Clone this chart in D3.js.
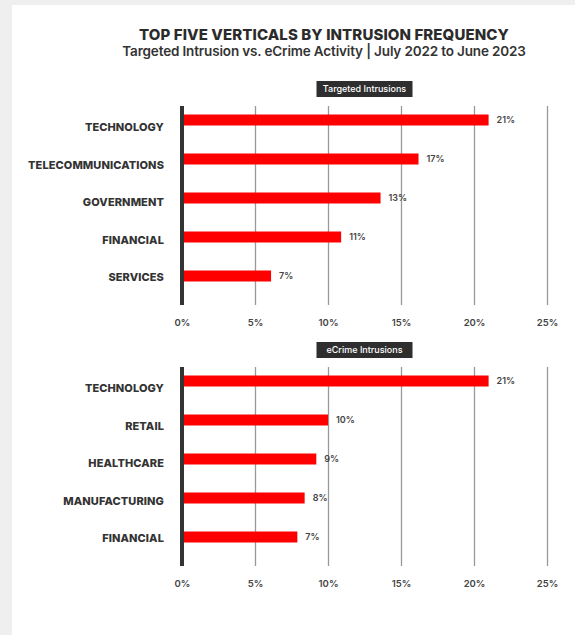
<!DOCTYPE html>
<html>
<head>
<meta charset="utf-8">
<script src="https://cdn.jsdelivr.net/npm/d3@7"></script>
<style>
  html, body { margin: 0; padding: 0; background: #efefef; }
  svg { display: block; }
  .title { font-family: Inter, "Noto Sans", sans-serif; font-weight: 800; fill: #2b2b2b; }
  .subtitle { font-family: Inter, "Noto Sans", sans-serif; font-weight: 600; fill: #333; }
  .cat { font-family: Inter, "Noto Sans", sans-serif; font-weight: 800; fill: #333; }
  .val, .tick text { font-family: Inter, "Noto Sans", sans-serif; font-weight: 600; fill: #444; }
  .hdr { font-family: Inter, "Noto Sans", sans-serif; font-weight: 500; fill: #fff; }
</style>
</head>
<body>
<div class="chart"></div>
<script>
// data
var targetedCategories = ["TECHNOLOGY", "TELECOMMUNICATIONS", "GOVERNMENT", "FINANCIAL", "SERVICES"];
var targetedValues = [21, 16.2, 13.6, 10.9, 6.1];
var targetedLabels = ["21%", "17%", "13%", "11%", "7%"];

var ecrimeCategories = ["TECHNOLOGY", "RETAIL", "HEALTHCARE", "MANUFACTURING", "FINANCIAL"];
var ecrimeValues = [21, 10, 9.2, 8.4, 7.9];
var ecrimeLabels = ["21%", "10%", "9%", "8%", "7%"];

var tickValues = [0, 5, 10, 15, 20, 25];
var panelTitles = ["Targeted Intrusions", "eCrime Intrusions"];

// constants
var WIDTH = 575, HEIGHT = 635;
var AXIS_X0 = 182, AXIS_X1 = 547;
var PANEL_Y0 = [0, 261];
var BAR_HEIGHT = 11;
var RED = "#fe0000";

var svg = d3.select(".chart").append("svg")
    .attr("width", WIDTH)
    .attr("height", HEIGHT);

// white sheet on grey page
svg.append("rect")
    .attr("x", 12).attr("y", 5)
    .attr("width", WIDTH).attr("height", HEIGHT)
    .attr("fill", "#fff");

svg.append("text")
    .attr("class", "title")
    .attr("x", 324).attr("y", 40)
    .attr("text-anchor", "middle")
    .style("font-size", "15px")
    .style("letter-spacing", "0.1px")
    .text("TOP FIVE VERTICALS BY INTRUSION FREQUENCY");

svg.append("text")
    .attr("class", "subtitle")
    .attr("x", 324).attr("y", 56)
    .attr("text-anchor", "middle")
    .style("font-size", "13.5px")
    .style("letter-spacing", "-0.15px")
    .text("Targeted Intrusion vs. eCrime Activity | July 2022 to June 2023");

var x = d3.scaleLinear().domain([0, 25]).range([AXIS_X0, AXIS_X1]);

function panel(i, categories, values, labels) {
    var g = svg.append("g").attr("transform", "translate(0," + PANEL_Y0[i] + ")");

    var y = d3.scalePoint().domain(categories).range([120, 276]);
    // labels sit a little below the bars and closer together
    var yLabel = d3.scalePoint().domain(categories).range([127, 277]);

    // x axis with grid lines
    var axis = g.append("g")
        .attr("transform", "translate(0,305)")
        .call(d3.axisBottom(x)
            .tickValues(tickValues)
            .tickSize(-199)
            .tickPadding(14)
            .tickFormat(function (d) { return d + "%"; }));
    axis.select(".domain").remove();
    axis.selectAll(".tick line").attr("stroke", "#999").attr("stroke-width", 1.3);
    axis.selectAll(".tick text").style("font-size", "9.5px");
    axis.selectAll(".tick").filter(function (d) { return d === 0; }).select("line").remove();

    // dark baseline
    g.append("rect")
        .attr("x", x(0) - 2).attr("y", 106)
        .attr("width", 4).attr("height", 199)
        .attr("fill", "#333");

    g.selectAll(".bar")
        .data(values)
      .enter().append("rect")
        .attr("class", "bar")
        .attr("x", x(0) + 2)
        .attr("y", function (d, k) { return y(categories[k]) - BAR_HEIGHT / 2; })
        .attr("width", function (d) { return x(d) - x(0) - 2; })
        .attr("height", BAR_HEIGHT)
        .attr("fill", RED);

    g.selectAll(".val")
        .data(values)
      .enter().append("text")
        .attr("class", "val")
        .attr("x", function (d) { return x(d) + 8; })
        .attr("y", function (d, k) { return y(categories[k]); })
        .attr("dy", "0.35em")
        .style("font-size", "9px")
        .text(function (d, k) { return labels[k]; });

    g.selectAll(".cat")
        .data(categories)
      .enter().append("text")
        .attr("class", "cat")
        .attr("x", 164)
        .attr("y", function (d) { return yLabel(d) + 4; })
        .attr("text-anchor", "end")
        .style("font-size", "11px")
        .style("letter-spacing", "0.1px")
        .text(function (d) { return d; });

    // panel header box
    var cx = (AXIS_X0 + AXIS_X1) / 2;
    g.append("rect")
        .attr("x", cx - 48).attr("y", 81)
        .attr("width", 96).attr("height", 16)
        .attr("fill", "#2e2e2e");
    g.append("text")
        .attr("class", "hdr")
        .attr("x", cx).attr("y", 89)
        .attr("dy", "0.35em")
        .attr("text-anchor", "middle")
        .style("font-size", "9px")
        .text(panelTitles[i]);
}

panel(0, targetedCategories, targetedValues, targetedLabels);
panel(1, ecrimeCategories, ecrimeValues, ecrimeLabels);
</script>
</body>
</html>
